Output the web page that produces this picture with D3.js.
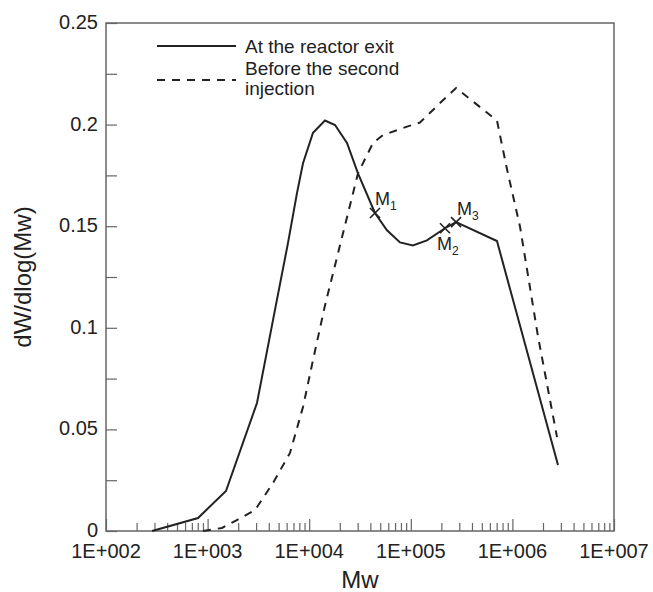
<!DOCTYPE html>
<html>
<head>
<meta charset="utf-8">
<script src="https://cdn.jsdelivr.net/npm/d3@7"></script>
<style>
  body { margin: 0; background: #fff; }
  text { font-family: 'Liberation Sans', Arial, sans-serif; fill: #222; }
</style>
</head>
<body>
<div id="chart"></div>
<script>
// Molecular weight distributions
var reactorMw = [284, 805, 1517, 3063, 4600, 6180, 7580, 8690, 10900, 14300, 17960, 23550, 30200, 44400, 58300, 78300, 105000, 144000, 217000, 279000, 705000, 2810000];
var reactorW = [0, 0.0064, 0.0197, 0.063, 0.1087, 0.1417, 0.1663, 0.181, 0.196, 0.202, 0.1998, 0.191, 0.176, 0.1565, 0.148, 0.142, 0.1405, 0.143, 0.149, 0.152, 0.1427, 0.0325];

var injectionMw = [900, 1387, 1945, 2930, 4400, 6470, 8690, 10900, 14300, 30200, 42500, 53200, 91800, 123000, 194000, 279000, 705000, 885000, 1190000, 1790000, 2750000];
var injectionW = [0, 0.0015, 0.0054, 0.0103, 0.0236, 0.0384, 0.061, 0.0841, 0.111, 0.176, 0.191, 0.1948, 0.199, 0.201, 0.2106, 0.218, 0.202, 0.178, 0.1496, 0.0955, 0.0462];

var markerNames = ['1', '2', '3'];
var markerMw = [44400, 217000, 279000];
var markerW = [0.1565, 0.149, 0.152];

var xTickValues = [1e2, 1e3, 1e4, 1e5, 1e6, 1e7];
var xTickLabels = ['1E+002', '1E+003', '1E+004', '1E+005', '1E+006', '1E+007'];
var yTickValues = [0, 0.05, 0.1, 0.15, 0.2, 0.25];
var yTickLabels = ['0', '0.05', '0.1', '0.15', '0.2', '0.25'];
var yMinorValues = [0.025, 0.075, 0.125, 0.175, 0.225];

var legendNames = ['At the reactor exit', 'Before the second|injection'];

var margin = { top: 23, right: 39, bottom: 61, left: 106 },
  width = 653 - margin.left - margin.right,
  height = 592 - margin.top - margin.bottom;

var svg = d3
  .select('#chart')
  .append('svg')
  .attr('width', 653)
  .attr('height', 592)
  .append('g')
  .attr('transform', 'translate(' + margin.left + ',' + margin.top + ')');

var xScale = d3.scaleLog().domain([1e2, 1e7]).range([0, width]);
var yScale = d3.scaleLinear().domain([0, 0.25]).range([height, 0]);

var axisColor = '#666';

// minor x ticks (2..9 within each decade)
var xMinor = [];
for (var e = 2; e < 7; e++) {
  for (var k = 2; k < 10; k++) xMinor.push(k * Math.pow(10, e));
}

var xAxis = svg.append('g').attr('transform', 'translate(0,' + height + ')');
xAxis.call(d3.axisTop(xScale).tickValues(xMinor).tickSize(8).tickFormat(''));
xAxis.call(function (g) {
  g.select('.domain').remove();
  g.selectAll('line').attr('stroke', axisColor).attr('stroke-width', 1.2);
});

var xMajor = svg.append('g').attr('transform', 'translate(0,' + height + ')');
xMajor.call(
  d3.axisTop(xScale).tickValues(xTickValues).tickSize(12).tickFormat('')
);
xMajor.call(function (g) {
  g.select('.domain').remove();
  g.selectAll('line').attr('stroke', axisColor).attr('stroke-width', 1.2);
});

// x tick labels
svg
  .selectAll('.xlabel')
  .data(xTickValues)
  .enter()
  .append('text')
  .attr('x', function (d) {
    return xScale(d);
  })
  .attr('y', height + 27)
  .attr('text-anchor', 'middle')
  .style('font-size', '20px')
  .text(function (d, i) {
    return xTickLabels[i];
  });

// y ticks
var yAxis = svg.append('g');
yAxis.call(
  d3.axisRight(yScale).tickValues(yTickValues.concat(yMinorValues)).tickSize(11).tickFormat('')
);
yAxis.call(function (g) {
  g.select('.domain').remove();
  g.selectAll('line').attr('stroke', axisColor).attr('stroke-width', 1.2);
});

svg
  .selectAll('.ylabel')
  .data(yTickValues)
  .enter()
  .append('text')
  .attr('x', -8)
  .attr('y', function (d) {
    return yScale(d);
  })
  .attr('dy', '0.3em')
  .attr('text-anchor', 'end')
  .style('font-size', '20px')
  .text(function (d, i) {
    return yTickLabels[i];
  });

// frame
svg
  .append('rect')
  .attr('width', width)
  .attr('height', height)
  .attr('fill', 'none')
  .attr('stroke', axisColor)
  .attr('stroke-width', 1.5);

// axis titles
svg
  .append('text')
  .attr('x', width / 2)
  .attr('y', height + 57)
  .attr('text-anchor', 'middle')
  .style('font-size', '24px')
  .text('Mw');

svg
  .append('text')
  .attr('transform', 'rotate(-90)')
  .attr('x', -height / 2)
  .attr('y', -margin.left + 31)
  .attr('text-anchor', 'middle')
  .style('font-size', '24px')
  .text('dW/dlog(Mw)');

// the curves
var line = d3
  .line()
  .x(function (d) {
    return xScale(d.mw);
  })
  .y(function (d) {
    return yScale(d.w);
  });

var series = [
  { name: legendNames[0], dash: null, values: reactorMw.map(function (m, i) { return { mw: m, w: reactorW[i] }; }) },
  { name: legendNames[1], dash: '8,7', values: injectionMw.map(function (m, i) { return { mw: m, w: injectionW[i] }; }) },
];

svg
  .selectAll('.curve')
  .data(series)
  .enter()
  .append('path')
  .attr('d', function (d) {
    return line(d.values);
  })
  .attr('fill', 'none')
  .attr('stroke', '#222')
  .attr('stroke-width', 2)
  .attr('stroke-dasharray', function (d) {
    return d.dash;
  });

// M markers (crosses) on the reactor curve
var markers = svg
  .selectAll('.marker')
  .data(markerNames)
  .enter()
  .append('g')
  .attr('transform', function (d, i) {
    return 'translate(' + xScale(markerMw[i]) + ',' + yScale(markerW[i]) + ')';
  });

markers
  .append('path')
  .attr('d', 'M-5,-5L5,5M-5,5L5,-5')
  .attr('stroke', '#222')
  .attr('stroke-width', 1.6);

var labelOffsets = [[0, -8], [-8, 22], [1, -7]];
var mLabel = markers
  .append('text')
  .attr('x', function (d, i) {
    return labelOffsets[i][0];
  })
  .attr('y', function (d, i) {
    return labelOffsets[i][1];
  })
  .style('font-size', '18px');
mLabel.append('tspan').text('M');
mLabel
  .append('tspan')
  .attr('dy', 5)
  .style('font-size', '12px')
  .text(function (d) {
    return d;
  });

// legend
var legend = svg.append('g').attr('transform', 'translate(51,0)');
legend
  .selectAll('.legline')
  .data(series)
  .enter()
  .append('line')
  .attr('x1', 0)
  .attr('x2', 79)
  .attr('y1', function (d, i) {
    return i === 0 ? 23 : 57;
  })
  .attr('y2', function (d, i) {
    return i === 0 ? 23 : 57;
  })
  .attr('stroke', '#222')
  .attr('stroke-width', 2)
  .attr('stroke-dasharray', function (d) {
    return d.dash;
  });

legend
  .selectAll('.legtext')
  .data(series)
  .enter()
  .append('text')
  .attr('x', 88)
  .attr('y', function (d, i) {
    return i === 0 ? 30 : 52;
  })
  .style('font-size', '19px')
  .each(function (d) {
    var parts = d.name.split('|');
    var t = d3.select(this);
    parts.forEach(function (p, j) {
      t.append('tspan')
        .attr('x', 88)
        .attr('dy', j === 0 ? 0 : 20)
        .text(p);
    });
  });
</script>
</body>
</html>
